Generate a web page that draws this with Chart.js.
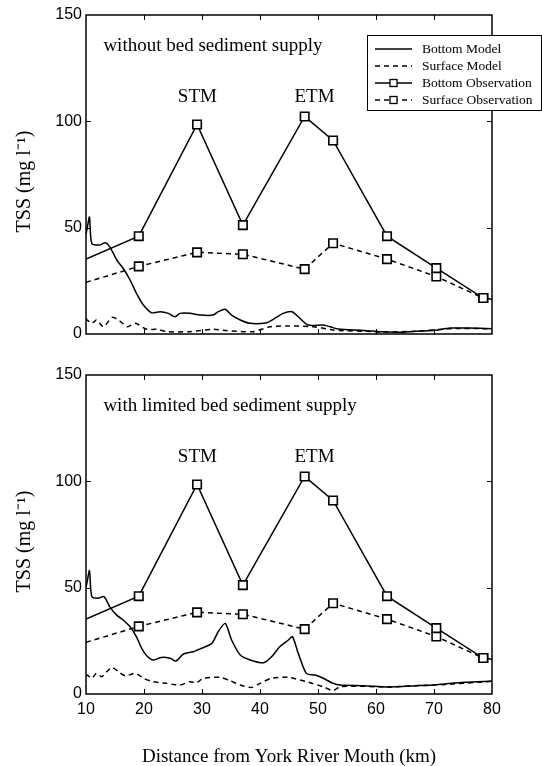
<!DOCTYPE html>
<html>
<head>
<meta charset="utf-8">
<script src="https://cdn.jsdelivr.net/npm/chart.js@4.4.1/dist/chart.umd.min.js"></script>
<style>
  html, body { margin: 0; padding: 0; background: #fff; }
  #wrap { position: relative; width: 542px; height: 766px; overflow: hidden; }
  canvas { position: absolute; left: 0; }
  #top { top: 0; }
  #bottom { top: 360px; }
</style>
</head>
<body>
<div id="wrap">
  <canvas id="top" width="542" height="360"></canvas>
  <canvas id="bottom" width="542" height="408"></canvas>
</div>
<script>
'use strict';

// observation stations (km from mouth); first/last entries are the line ends at the plot edges
const obsKm = [10, 19.1, 29.15, 37.05, 47.7, 52.6, 61.9, 70.4, 78.5, 80];
const bottomObs = [35.2, 46, 98.5, 51.2, 102.3, 91, 46, 31, 16.9, 16.3];
const surfaceObs = [24.3, 31.8, 38.4, 37.5, 30.5, 42.7, 35.2, 27, 16.9, 16];

// top panel: without bed sediment supply
const topBottomKm = [10, 10.2, 10.6, 11.0, 12.4, 13.3, 14.1, 15.3, 16.4, 17.6, 18.7, 19.9, 21.3, 22.8, 24.2, 25.3, 26.2, 27.9, 29.7, 31.9, 32.8, 34.0, 35.1, 36.6, 38.3, 41.2, 42.3, 44.0, 45.5, 46.6, 48.3, 50.9, 52.1, 53.5, 57.9, 60.9, 63.9, 66.9, 69.8, 72.8, 75.8, 80];
const topBottomModel = [47, 49.7, 55, 42.6, 41.9, 42.9, 41, 34.8, 30.9, 25.4, 19.1, 13.6, 10.0, 10.5, 9.7, 8.1, 9.7, 9.7, 8.9, 8.9, 10.5, 11.6, 8.9, 6.6, 5.0, 5.3, 6.9, 9.7, 10.5, 8.1, 4.2, 4.2, 3.4, 2.3, 1.7, 1.0, 0.8, 1.3, 1.6, 2.8, 2.8, 2.5];
const topSurfaceKm = [10, 10.2, 11.0, 11.8, 13.0, 14.5, 15.6, 17.1, 18.5, 20.5, 22.2, 24.0, 27.9, 31.9, 34.2, 38.8, 41.7, 44.6, 49.2, 52.6, 53.7, 57.9, 60.9, 66.9, 72.8, 80];
const topSurfaceModel = [7.5, 6.6, 5.0, 6.6, 3.4, 7.8, 6.6, 3.4, 5.0, 2.2, 2.2, 1.1, 1.1, 2.2, 1.6, 1.1, 3.4, 3.8, 3.4, 1.9, 1.6, 1.3, 0.9, 1.3, 2.5, 2.5];

// bottom panel: with limited bed sediment supply
const botBottomKm = [10, 10.2, 10.6, 11.0, 12.1, 13.1, 14.1, 15.3, 16.4, 17.6, 18.7, 19.6, 20.5, 21.6, 23.0, 24.5, 25.5, 26.8, 28.5, 29.9, 31.7, 32.8, 34.0, 35.1, 36.6, 38.3, 40.6, 42.0, 43.4, 44.9, 45.6, 46.6, 48.0, 49.5, 50.9, 52.6, 53.8, 57.9, 62.1, 66.9, 70.4, 75.2, 80];
const botBottomModel = [50, 52.8, 58, 45.8, 45, 45.8, 41, 37.1, 34.8, 31.6, 26.9, 21.5, 17.9, 16.0, 17.2, 16.8, 15.5, 18.8, 19.9, 21.5, 23.8, 29.3, 33.2, 25.4, 18.3, 16.0, 14.7, 17.5, 22.2, 25.4, 26.9, 19.1, 9.7, 8.9, 7.4, 5.0, 4.2, 3.9, 3.3, 3.9, 4.4, 5.5, 6];
const botSurfaceKm = [10, 10.2, 11.0, 11.8, 12.7, 13.6, 14.5, 15.6, 16.8, 18.5, 19.9, 21.6, 23.9, 26.2, 27.9, 29.1, 30.2, 33.1, 34.8, 36.6, 38.6, 40.0, 42.0, 44.9, 48.0, 50.9, 52.6, 53.8, 57.9, 62.1, 66.9, 72, 80];
const botSurfaceModel = [8.3, 8.9, 7.4, 9.7, 8.1, 10.5, 12.5, 10.5, 8.5, 9.7, 7.4, 5.8, 5.0, 4.2, 5.8, 5.3, 7.4, 7.8, 6.3, 4.2, 3.1, 5.0, 7.4, 7.8, 5.8, 3.4, 1.6, 3.4, 3.6, 3.3, 3.9, 4.5, 6];

const xTicks = [10, 20, 30, 40, 50, 60, 70, 80];
const yTicks = [0, 50, 100, 150];

const SERIF = '"Liberation Serif", "Times New Roman", serif';
const SANS = '"Liberation Sans", Arial, sans-serif';

function pts(xs, ys) {
  return xs.map((x, i) => ({ x: x, y: ys[i] }));
}

const markerRadius = obsKm.map((k, i) => (i === 0 || i === obsKm.length - 1) ? 0 : 6);

function datasets(bKm, bVal, sKm, sVal) {
  return [
    { label: 'Bottom Model', data: pts(bKm, bVal), borderColor: '#000', borderWidth: 1.5, pointRadius: 0, tension: 0.25 },
    { label: 'Surface Model', data: pts(sKm, sVal), borderColor: '#000', borderWidth: 1.5, borderDash: [5, 4], pointRadius: 0, tension: 0.25 },
    { label: 'Bottom Observation', data: pts(obsKm, bottomObs), borderColor: '#000', borderWidth: 1.5,
      pointStyle: 'rect', pointRadius: markerRadius, pointBackgroundColor: '#fff', pointBorderColor: '#000', pointBorderWidth: 1.6 },
    { label: 'Surface Observation', data: pts(obsKm, surfaceObs), borderColor: '#000', borderWidth: 1.5, borderDash: [5, 4],
      pointStyle: 'rect', pointRadius: markerRadius, pointBackgroundColor: '#fff', pointBorderColor: '#000', pointBorderWidth: 1.6 }
  ];
}

// box, inward ticks, y title, captions and legend
const framePlugin = {
  id: 'frame',
  afterDatasetsDraw(chart, args, opts) {
    const { ctx, chartArea: a, scales: { x, y } } = chart;
    ctx.save();
    ctx.strokeStyle = '#000';
    ctx.lineWidth = 1.5;
    ctx.strokeRect(a.left, a.top, a.width, a.height);
    ctx.lineWidth = 1;
    ctx.beginPath();
    xTicks.slice(1, -1).forEach(v => {
      const px = Math.round(x.getPixelForValue(v)) + 0.5;
      ctx.moveTo(px, a.bottom); ctx.lineTo(px, a.bottom - 5);
      ctx.moveTo(px, a.top); ctx.lineTo(px, a.top + 5);
    });
    yTicks.slice(1, -1).forEach(v => {
      const py = Math.round(y.getPixelForValue(v)) + 0.5;
      ctx.moveTo(a.left, py); ctx.lineTo(a.left + 5, py);
      ctx.moveTo(a.right, py); ctx.lineTo(a.right - 5, py);
    });
    ctx.stroke();

    ctx.fillStyle = '#000';
    ctx.font = '20px ' + SERIF;
    ctx.textBaseline = 'middle';
    ctx.textAlign = 'center';
    ctx.save();
    ctx.translate(25, (a.top + a.bottom) / 2 + 7);
    ctx.rotate(-Math.PI / 2);
    ctx.fillText('TSS (mg l\u207B\u00B9)', 0, 0);
    ctx.restore();

    ctx.font = '19px ' + SERIF;
    ctx.textAlign = 'left';
    ctx.fillText(opts.caption, x.getPixelForValue(13), y.getPixelForValue(135.5));
    ctx.textAlign = 'center';
    ctx.fillText('STM', x.getPixelForValue(29.2), y.getPixelForValue(111.5));
    ctx.fillText('ETM', x.getPixelForValue(49.4), y.getPixelForValue(111.5));

    if (opts.legend) {
      const lx = a.right - 125, ly = a.top + 20, lw = 174, lh = 75;
      ctx.fillStyle = '#fff';
      ctx.fillRect(lx, ly, lw, lh);
      ctx.strokeStyle = '#000';
      ctx.lineWidth = 1;
      ctx.strokeRect(lx + 0.5, ly + 0.5, lw, lh);
      ctx.font = '13.5px ' + SERIF;
      ctx.textAlign = 'left';
      chart.data.datasets.forEach((ds, i) => {
        const ry = ly + 14 + i * 17;
        ctx.strokeStyle = '#000';
        ctx.lineWidth = 1.3;
        ctx.setLineDash(ds.borderDash || []);
        ctx.beginPath();
        ctx.moveTo(lx + 8, ry);
        ctx.lineTo(lx + 45, ry);
        ctx.stroke();
        ctx.setLineDash([]);
        if (ds.pointStyle) {
          ctx.fillStyle = '#fff';
          ctx.fillRect(lx + 23, ry - 3.5, 7, 7);
          ctx.strokeRect(lx + 23, ry - 3.5, 7, 7);
        }
        ctx.fillStyle = '#000';
        ctx.fillText(ds.label, lx + 55, ry);
      });
    }
    ctx.restore();
  }
};

function makeChart(id, sets, caption, legend, showX, xHeight) {
  return new Chart(document.getElementById(id), {
    type: 'line',
    data: { datasets: sets },
    options: {
      responsive: false,
      animation: false,
      devicePixelRatio: 1,
      layout: { autoPadding: false, padding: { top: 15, right: 50, left: 0, bottom: 0 } },
      plugins: {
        legend: { display: false },
        tooltip: { enabled: false },
        frame: { caption: caption, legend: legend }
      },
      scales: {
        x: {
          type: 'linear', min: 10, max: 80,
          grid: { display: false, drawTicks: false },
          border: { display: false },
          ticks: { display: showX, stepSize: 10, padding: 6, color: '#000', font: { family: SANS, size: 16 } },
          title: { display: showX, text: 'Distance from York River Mouth (km)', color: '#000',
                   font: { family: SERIF, size: 19, lineHeight: 1 }, padding: { top: 0, bottom: 1 } },
          afterFit(s) { s.height = xHeight; }
        },
        y: {
          min: 0, max: 150,
          grid: { display: false, drawTicks: false },
          border: { display: false },
          ticks: { stepSize: 50, padding: 4, color: '#000', font: { family: SANS, size: 16 } },
          afterFit(s) { s.width = 86; }
        }
      }
    },
    plugins: [framePlugin]
  });
}

makeChart('top', datasets(topBottomKm, topBottomModel, topSurfaceKm, topSurfaceModel),
  'without bed sediment supply', true, false, 26);
makeChart('bottom', datasets(botBottomKm, botBottomModel, botSurfaceKm, botSurfaceModel),
  'with limited bed sediment supply', false, true, 74);
</script>
</body>
</html>
